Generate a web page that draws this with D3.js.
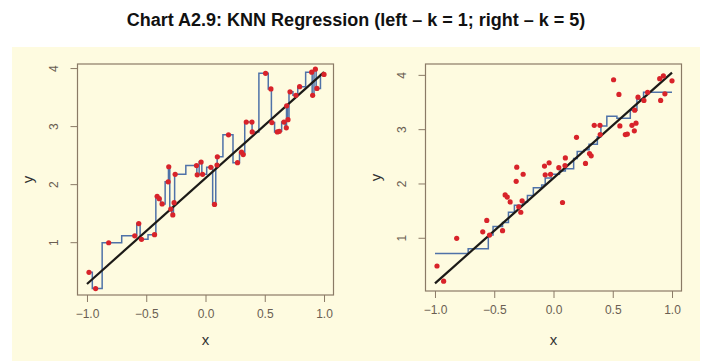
<!DOCTYPE html>
<html>
<head>
<meta charset="utf-8">
<script src="https://cdn.jsdelivr.net/npm/d3@7"></script>
<style>
  body { margin: 0; background: #fff; }
  svg text { font-family: "Liberation Sans", Arial, sans-serif; }
</style>
</head>
<body>
<svg id="chart" width="711" height="361"></svg>
<script>
// observations (same sample in both panels)
const xs = [-0.983, -0.927, -0.817, -0.597, -0.563, -0.540, -0.430, -0.408, -0.390, -0.366,
  -0.315, -0.310, -0.293, -0.276, -0.265, -0.256, -0.076, -0.070, -0.037, -0.025,
  0.045, 0.076, 0.100, 0.097, 0.194, 0.270, 0.304, 0.318, 0.344, 0.392,
  0.394, 0.507, 0.552, 0.560, 0.606, 0.623, 0.662, 0.682, 0.685, 0.696,
  0.713, 0.763, 0.794, 0.896, 0.904, 0.927, 0.940, 1.000];
const ys = [0.48, 0.20, 0.99, 1.11, 1.32, 1.05, 1.13, 1.79, 1.75, 1.66,
  2.04, 2.30, 1.57, 1.47, 1.68, 2.17, 2.32, 2.16, 2.38, 2.17,
  2.29, 1.65, 2.47, 2.33, 2.85, 2.37, 2.55, 2.51, 3.07, 3.07,
  2.90, 3.91, 3.64, 3.06, 2.90, 2.91, 3.07, 2.97, 3.35, 3.11,
  3.59, 3.53, 3.68, 3.93, 3.53, 3.98, 3.65, 3.89];

// k = 5 fit, read as steps (start of each level, level)
const knnX = [-1.00, -0.72, -0.55, -0.51, -0.43, -0.38, -0.33, -0.26, -0.22, -0.17,
  -0.10, -0.07, -0.02, 0.05, 0.10, 0.17, 0.20, 0.26, 0.30, 0.37,
  0.40, 0.45, 0.535, 0.648, 0.704, 0.76, 1.00];
const knnY = [0.71, 0.80, 1.05, 1.21, 1.28, 1.47, 1.60, 1.66, 1.78, 1.92,
  1.97, 2.10, 2.17, 2.23, 2.27, 2.46, 2.59, 2.62, 2.72, 2.86,
  3.06, 3.24, 3.20, 3.35, 3.55, 3.68, 3.68];

// straight reference line end points for each panel
const lineLeft = [[-1, 0.28], [1, 3.93]];
const lineRight = [[-1, 0.16], [1, 4.04]];

const xTicks = [-1, -0.5, 0, 0.5, 1];
const yTicks = [1, 2, 3, 4];

const svg = d3.select("#chart");

svg.append("rect")
  .attr("x", 12).attr("y", 47)
  .attr("width", 688).attr("height", 314)
  .attr("fill", "#fefbe0");

svg.append("text")
  .attr("x", 356).attr("y", 26)
  .attr("text-anchor", "middle")
  .attr("font-size", 18).attr("font-weight", "bold")
  .attr("fill", "#111")
  .text("Chart A2.9: KNN Regression (left – k = 1; right – k = 5)");

const points = xs.map((d, i) => ({ x: d, y: ys[i] })).sort((a, b) => a.x - b.x);

function panel(opt) {
  const x = d3.scaleLinear().domain([-1.08, 1.08]).range(opt.xr);
  const y = d3.scaleLinear().domain(opt.yd).range(opt.yr);
  const g = svg.append("g");

  // axes
  const ax = g.append("g")
    .attr("transform", `translate(0,${opt.yr[0]})`)
    .call(d3.axisBottom(x).tickValues(xTicks).tickFormat(d3.format(".1f")).tickSize(7).tickPadding(7));
  const ay = g.append("g")
    .attr("transform", `translate(${opt.xr[0]},0)`)
    .call(d3.axisLeft(y).tickValues(yTicks).tickFormat(d3.format("d")).tickSize(7));
  [ax, ay].forEach(a => {
    a.select(".domain").remove();
    a.selectAll("line").attr("stroke", "#8a7a66");
    a.selectAll("text").attr("fill", "#6a5e52").attr("font-size", 12);
  });
  ay.selectAll("text")
    .attr("x", null).attr("dy", "0.35em")
    .attr("text-anchor", "middle")
    .attr("transform", "translate(-24,0) rotate(-90)");

  // box
  g.append("rect")
    .attr("x", opt.xr[0]).attr("y", opt.yr[1])
    .attr("width", opt.xr[1] - opt.xr[0]).attr("height", opt.yr[0] - opt.yr[1])
    .attr("fill", "none").attr("stroke", "#8a7a66").attr("stroke-width", 1.2);

  // axis titles
  g.append("text")
    .attr("x", (x(-1) + x(1)) / 2).attr("y", 345)
    .attr("text-anchor", "middle").attr("font-size", 15).attr("fill", "#333")
    .text("x");
  g.append("text")
    .attr("transform", `translate(${opt.xr[0] - 50},${(opt.yr[0] + opt.yr[1]) / 2}) rotate(-90)`)
    .attr("text-anchor", "middle").attr("dy", "0.35em").attr("font-size", 15).attr("fill", "#333")
    .text("y");

  // fitted step
  g.append("path")
    .datum(opt.step)
    .attr("fill", "none").attr("stroke", "#4f72a8").attr("stroke-width", 1.5)
    .attr("d", d3.line().x(d => x(d.x)).y(d => y(d.y)).curve(opt.curve));

  // reference line
  g.append("path")
    .datum(opt.line)
    .attr("fill", "none").attr("stroke", "#1c1a17").attr("stroke-width", 2.2)
    .attr("d", d3.line().x(d => x(d[0])).y(d => y(d[1])));

  // observations
  g.selectAll("circle")
    .data(points)
    .enter().append("circle")
    .attr("cx", d => x(d.x)).attr("cy", d => y(d.y))
    .attr("r", 2.6).attr("fill", "#d8232a");
}

// k = 1: nearest neighbour is a step halfway between neighbouring x values
const step1 = [{ x: -1, y: points[0].y }].concat(points);
panel({
  xr: [77.5, 333.5], yd: [0.09, 4.07], yr: [295, 64],
  step: step1, curve: d3.curveStep, line: lineLeft
});

const step5 = knnX.map((d, i) => ({ x: d, y: knnY[i] }));
panel({
  xr: [425.5, 681.5], yd: [0.02, 4.2], yr: [291, 64],
  step: step5, curve: d3.curveStepAfter, line: lineRight
});
</script>
</body>
</html>
